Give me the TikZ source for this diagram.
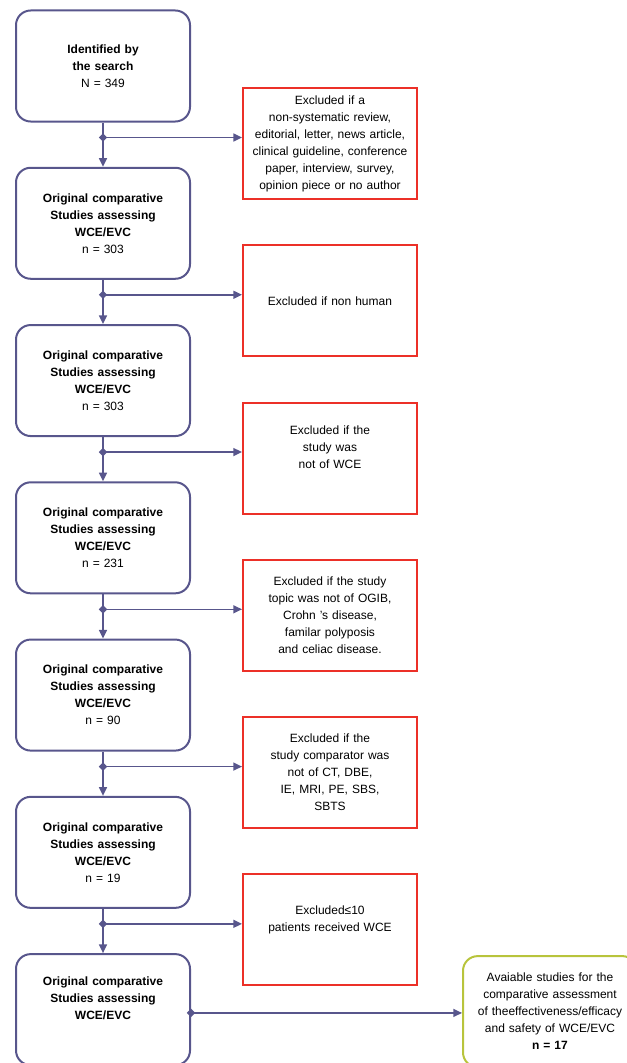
\documentclass[tikz,border=0pt]{standalone}
\usepackage{fontspec}
\setmainfont{Liberation Sans}
\usepackage{xcolor}
\usepackage{tikz}
\usetikzlibrary{shapes.geometric, arrows.meta, positioning, chains}
\definecolor{flowline}{RGB}{88,86,140}
\definecolor{exclred}{RGB}{236,48,40}
\definecolor{finalgreen}{RGB}{184,196,60}
\tikzstyle{stage} = [rectangle, rounded corners=11pt, minimum width=130.5pt, minimum height=83.25pt, text width=126pt, inner sep=2pt, align=center, draw=flowline, line width=1.5pt]
\tikzstyle{excl} = [rectangle, minimum width=130.5pt, minimum height=83.25pt, text width=126pt, inner sep=2pt, align=center, draw=exclred, line width=1.5pt]
\tikzstyle{final} = [stage, draw=finalgreen]
\tikzstyle{arrow} = [draw=flowline, line width=1.1pt, -{Triangle[length=6.5pt,width=6pt]}]
\tikzstyle{dot} = [diamond, fill=flowline, inner sep=0pt, minimum size=6.5pt]

\begin{document}
\begin{tikzpicture}[
    node distance=33.2pt,
    start chain=going below,
    every join/.style={arrow},
    every node/.style={font=\fontsize{9}{12.75}\selectfont, text=black}
]
\useasboundingbox (0,0) rectangle (470.25pt,-797.25pt);

% Nodes
\node (s1) [stage, on chain] at (77.25pt,-49.5pt) {\textbf{Identified by}\\\textbf{the search}\\N = 349};
\node (s2) [stage, on chain, join] {\textbf{Original comparative}\\\textbf{Studies assessing}\\\textbf{WCE/EVC}\\n = 303};
\node (s3) [stage, on chain, join] {\textbf{Original comparative}\\\textbf{Studies assessing}\\\textbf{WCE/EVC}\\n = 303};
\node (s4) [stage, on chain, join] {\textbf{Original comparative}\\\textbf{Studies assessing}\\\textbf{WCE/EVC}\\n = 231};
\node (s5) [stage, on chain, join] {\textbf{Original comparative}\\\textbf{Studies assessing}\\\textbf{WCE/EVC}\\n = 90};
\node (s6) [stage, on chain, join] {\textbf{Original comparative}\\\textbf{Studies assessing}\\\textbf{WCE/EVC}\\n = 19};
\node (s7) [stage, on chain, join] {\textbf{Original comparative}\\\textbf{Studies assessing}\\\textbf{WCE/EVC}\\\strut};

\node (x1) [excl, right=38.25pt of s1, yshift=-58.1pt] {Excluded if a\\non-systematic review,\\editorial, letter, news article,\\clinical guideline, conference\\paper, interview, survey,\\opinion piece or no author};
\node (x2) [excl, right=38.25pt of s2, yshift=-58.1pt] {Excluded if non human};
\node (x3) [excl, right=38.25pt of s3, yshift=-58.1pt] {Excluded if the\\study was\\not of WCE\\\strut};
\node (x4) [excl, right=38.25pt of s4, yshift=-58.1pt] {Excluded if the study\\topic was not of OGIB,\\Crohn 's disease,\\familar polyposis\\and celiac disease.};
\node (x5) [excl, right=38.25pt of s5, yshift=-58.1pt] {Excluded if the\\study comparator was\\not of CT, DBE,\\IE, MRI, PE, SBS,\\SBTS};
\node (x6) [excl, right=38.25pt of s6, yshift=-58.1pt] {Excluded≤10\\patients received WCE\\\strut};
\node (fin) [final, right=203.25pt of s7, yshift=-1.5pt] {Avaiable studies for the\\comparative assessment\\of theeffectiveness/efficacy\\and safety of WCE/EVC\\\textbf{n = 17}};

% Junctions
\coordinate (j1) at ([yshift=-11.25pt]s1.south);
\coordinate (j2) at ([yshift=-11.25pt]s2.south);
\coordinate (j3) at ([yshift=-11.25pt]s3.south);
\coordinate (j4) at ([yshift=-11.25pt]s4.south);
\coordinate (j5) at ([yshift=-11.25pt]s5.south);
\coordinate (j6) at ([yshift=-11.25pt]s6.south);
\coordinate (j7) at ([yshift=-2.5pt]s7.east);

% Arrows
\draw [arrow] (j1) -- (j1 -| x1.west);
\draw [arrow] (j2) -- (j2 -| x2.west);
\draw [arrow] (j3) -- (j3 -| x3.west);
\draw [arrow] (j4) -- (j4 -| x4.west);
\draw [arrow] (j5) -- (j5 -| x5.west);
\draw [arrow] (j6) -- (j6 -| x6.west);
\draw [arrow] (j7) -- (j7 -| fin.west);

\node (d1) [dot] at (j1) {};
\node (d2) [dot] at (j2) {};
\node (d3) [dot] at (j3) {};
\node (d4) [dot] at (j4) {};
\node (d5) [dot] at (j5) {};
\node (d6) [dot] at (j6) {};
\node (d7) [dot] at (j7) {};

\end{tikzpicture}
\end{document}
